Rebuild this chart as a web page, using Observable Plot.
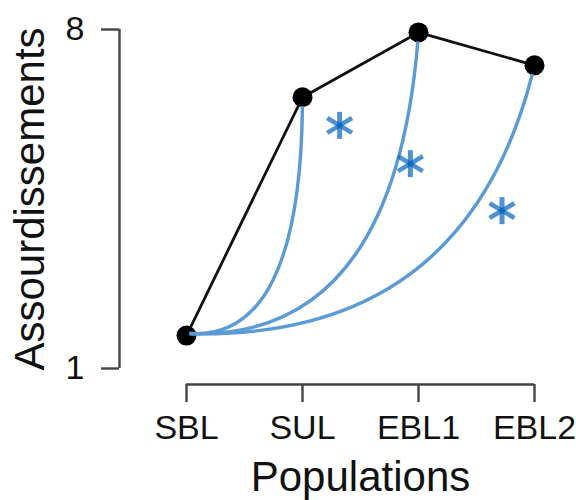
<!DOCTYPE html>
<html>
<head>
<meta charset="utf-8">
<script src="https://cdn.jsdelivr.net/npm/d3@7"></script>
<script src="https://cdn.jsdelivr.net/npm/@observablehq/plot@0.6"></script>
<style>
  html, body { margin: 0; padding: 0; background: #fff; }
</style>
</head>
<body>
<div id="chart"></div>
<script>
// ---- data ----
const populations = ["SBL", "SUL", "EBL1", "EBL2"];
const assourdissements = [1.68, 6.60, 7.94, 7.26];
const linkTargets = ["SUL", "EBL1", "EBL2"];
const starX = [1.32, 1.93, 2.72];
const starY = [6.02, 5.23, 4.26];
const yTicks = [1, 8];
const xTitle = "Populations";
const yTitle = "Assourdissements";

// ---- derived tables ----
const points = populations.map((p, i) => ({pop: p, i, v: assourdissements[i]}));
const links = linkTargets.map(t => {
  const j = populations.indexOf(t);
  return {x1: 0, y1: assourdissements[0], x2: j, y2: assourdissements[j]};
});
const stars = starX.map((x, k) => ({x, y: starY[k]}));

// custom curve: quadratic bend leaving the source rightwards, rising into the target
function curveBend(context) {
  let pts = [];
  return {
    areaStart() {}, areaEnd() {},
    lineStart() { pts = []; },
    point(x, y) { pts.push([+x, +y]); },
    lineEnd() {
      const [x0, y0] = pts[0];
      const [x3, y3] = pts[pts.length - 1];
      const dx = x3 - x0;
      const f = 1 - 0.0008 * (dx - 112);
      const cx = x0 + f * dx, cy = y0 + 5;
      const L = Math.hypot(x3 - cx, y3 - cy);
      const t = Math.max(0.5, 1 - 9 / (2 * L));
      const ax = x0 + (cx - x0) * t, ay = y0 + (cy - y0) * t;
      const bx = cx + (x3 - cx) * t, by = cy + (y3 - cy) * t;
      const ex = ax + (bx - ax) * t, ey = ay + (by - ay) * t;
      context.moveTo(x0 + 3, y0 - 2);
      context.quadraticCurveTo(ax, ay, ex, ey);
    }
  };
}

// asterisk arms as separate symbols (semi-transparent, overlapping center darker)
function arm(angleDeg) {
  const a = angleDeg * Math.PI / 180;
  return {
    draw(ctx, size) {
      const r = Math.sqrt(size / Math.PI);
      ctx.moveTo(-r * Math.cos(a), -r * Math.sin(a));
      ctx.lineTo(r * Math.cos(a), r * Math.sin(a));
    }
  };
}

const font = "'Liberation Sans', Arial, Helvetica, sans-serif";
const starColor = "#0a68c0";

const chart = Plot.plot({
  width: 576,
  height: 500,
  marginLeft: 186,
  marginRight: 42,
  marginTop: 29,
  marginBottom: 132,
  style: {fontFamily: font, fontSize: "34px", color: "#111", background: "#fff"},
  x: {type: "linear", domain: [0, populations.length - 1]},
  y: {type: "linear", domain: [1, 8]},
  marks: [
    // axes
    Plot.ruleX([0], {y1: yTicks[0], y2: yTicks[1], dx: -67, stroke: "#444", strokeWidth: 2.4}),
    Plot.axisY({ticks: yTicks, tickFormat: d => String(d), tickSize: 18, tickPadding: 17, dx: -67, stroke: "#444", strokeWidth: 2.4, fill: "#111", fontSize: 34, label: null}),
    Plot.ruleY([1], {x1: 0, x2: populations.length - 1, dy: 16, stroke: "#444", strokeWidth: 2.4}),
    Plot.axisX({ticks: d3.range(populations.length), tickFormat: i => populations[i], tickSize: 18, tickPadding: 12, dy: 16, stroke: "#444", strokeWidth: 2.4, fill: "#111", fontSize: 34, label: null}),
    // axis titles
    Plot.text([xTitle], {frameAnchor: "bottom", dy: 109, fontSize: 42, fill: "#111", textAnchor: "middle", lineAnchor: "middle"}),
    Plot.text([yTitle], {frameAnchor: "left", dx: -156, rotate: -90, fontSize: 42, fill: "#111", textAnchor: "middle", lineAnchor: "middle"}),
    // black profile
    Plot.line(points, {x: "i", y: "v", stroke: "#111", strokeWidth: 2.8}),
    Plot.dot(points, {x: "i", y: "v", r: 10, fill: "#000", stroke: "none"}),
    // blue curved links
    Plot.link(links, {x1: "x1", y1: "y1", x2: "x2", y2: "y2", curve: curveBend, stroke: "#5b9bd5", strokeWidth: 3.4, fill: "none"}),
    // asterisks
    Plot.dot(stars, {x: "x", y: "y", r: 13.5, symbol: arm(90), stroke: starColor, strokeOpacity: 0.72, strokeWidth: 5, fill: "none"}),
    Plot.dot(stars, {x: "x", y: "y", r: 14.5, symbol: arm(31), stroke: starColor, strokeOpacity: 0.72, strokeWidth: 4.6, fill: "none"}),
    Plot.dot(stars, {x: "x", y: "y", r: 14.5, symbol: arm(-31), stroke: starColor, strokeOpacity: 0.72, strokeWidth: 4.6, fill: "none"})
  ]
});
document.getElementById("chart").appendChild(chart);
</script>
</body>
</html>
